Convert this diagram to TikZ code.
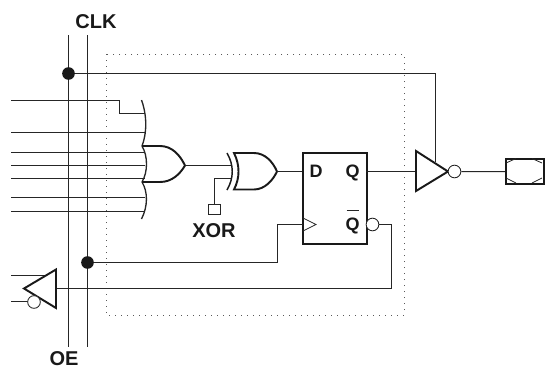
\documentclass[tikz,border=0pt]{standalone}
\usepackage{fontspec}
\setmainfont{Liberation Sans}
\tikzset{
  wire/.style={draw=black!85,line width=0.75pt},
  heavy/.style={draw=black!90,line width=1.45pt,line join=miter},
  dotbox/.style={draw=black!65,line width=0.7pt,dash pattern=on 0.7pt off 3.8pt},
  junction/.style={circle,fill=black!90,inner sep=0pt,minimum size=9.5pt},
  bubble/.style={circle,draw=black!85,fill=white,line width=0.65pt,inner sep=0pt,minimum size=9.5pt},
  lab/.style={font=\bfseries\fontsize{15}{15}\selectfont,inner sep=0pt,text=black!90,anchor=base},
  pin/.style={font=\bfseries\fontsize{13.5}{14}\selectfont,inner sep=0pt,text=black!90,anchor=base}
}
\begin{document}
\begin{tikzpicture}[x=0.75pt,y=-0.75pt]
\useasboundingbox (0,0) rectangle (545,368);
% dotted region
\draw[dotbox] (106,54) rectangle (404,315);
% coordinates
\coordinate (clkT) at (68.5,35); \coordinate (clkB) at (68.5,347);
\coordinate (oeT) at (87.5,35); \coordinate (oeB) at (87.5,347);
\node[lab] (clk) at (96,28) {CLK};
\node[lab] (oe) at (64,365) {OE};
\node[lab] (xor) at (214,237) {XOR};
% inputs
\draw[wire] (11,100.5) -- (119.5,100.5) -- (119.5,113.5) -- (144,113.5);
\foreach \y in {132.5,152.5,165.5,178.5,197.5,211.5}
  \draw[wire] (11,\y) -- (145,\y);
% bus verticals
\draw[wire] (clkT) -- (clkB);
\draw[wire] (oeT) -- (oeB);
% wavy OR back
\draw[wire,line width=1pt] (141.5,100) .. controls (146,112) and (148,130) .. (142,146)
  .. controls (148,156) and (148,172) .. (142,182)
  .. controls (148,192) and (148,206) .. (141.5,219);
% OR body
\draw[heavy] (142,146) -- (160,146) .. controls (172,146) and (180,155) .. (185,165.5)
  .. controls (180,174) and (172,182) .. (160,182) -- (142,182);
% XOR gate
\coordinate (orOut) at (185,165.5);
\coordinate (xorA) at (232,165.5);
\draw[wire] (orOut) -- (xorA);
\node[draw=black!85,line width=0.65pt,fill=white,minimum width=9.5pt,minimum height=7.5pt,inner sep=0pt] (xorbox) at (214.5,209) {};
\draw[wire] (xorbox.north) -- (214.5,178.5) -- (232,178.5);
\draw[heavy,line width=1.1pt] (227,153) .. controls (234,165) and (234,178) .. (227,190);
\draw[heavy] (234,153) -- (254,153) .. controls (265,153) and (273,162) .. (277,171.5)
  .. controls (273,180) and (265,189.5) .. (254,189.5) -- (234,189.5)
  .. controls (240,178) and (240,165) .. (234,153) -- cycle;
% flip flop
\node[heavy,minimum width=48pt,minimum height=68.25pt,inner sep=0pt,anchor=north west] (ff) at (302,152) {};
\draw[wire] (277,171.5) -- (302,171.5);
\node[pin] (d) at (316,177.5) {D};
\node[pin] (q) at (352.5,177.5) {Q};
\node[pin] (qb) at (352.5,230) {Q};
\draw[wire] (346.5,210.5) -- (358.5,210.5);
\draw[draw=black!85,line width=0.65pt] (303,218) -- (316,224.5) -- (303,231);
% clock line
\node[junction] (jclk) at (68.5,73.5) {};
\node[junction] (joe) at (87.5,262.5) {};
\draw[wire] (jclk) -- (435.5,73.5) -- (435.5,162);
\draw[wire] (joe) -- (277.5,262.5) -- (277.5,224.5) -- (303,224.5);
% Q bubble feedback
\node[bubble] (qbub) at (372.5,224.5) {};
\draw[wire] (qbub) -- (391.5,224.5) -- (391.5,288.5) -- (56,288.5);
% output inverter
\draw[wire] (366,171.5) -- (416,171.5);
\draw[heavy,fill=white] (416,151) -- (416,191) -- (448,171.5) -- cycle;
\draw[wire] (435.5,73.5) -- (435.5,162);
\node[bubble] (obub) at (454.5,171.5) {};
\node[heavy,line width=1.7pt,minimum width=28.5pt,minimum height=18.75pt,inner sep=0pt,anchor=north west] (pad) at (505,158) {};
\draw[wire] (obub) -- (pad.west);
\draw[draw=black!85,line width=0.6pt] (506,178) -- (516,183) (506,163) -- (516,158.5) (532,158.5) -- (542,163) (532,183) -- (542,178);
% OE buffer
\draw[wire] (11,275.5) -- (46,275.5);
\draw[wire] (11,301.5) -- (29,301.5);
\draw[heavy,fill=white] (24,288.5) -- (56,269.5) -- (56,308) -- cycle;
\node[bubble] (oebub) at (34,302) {};
\end{tikzpicture}
\end{document}
